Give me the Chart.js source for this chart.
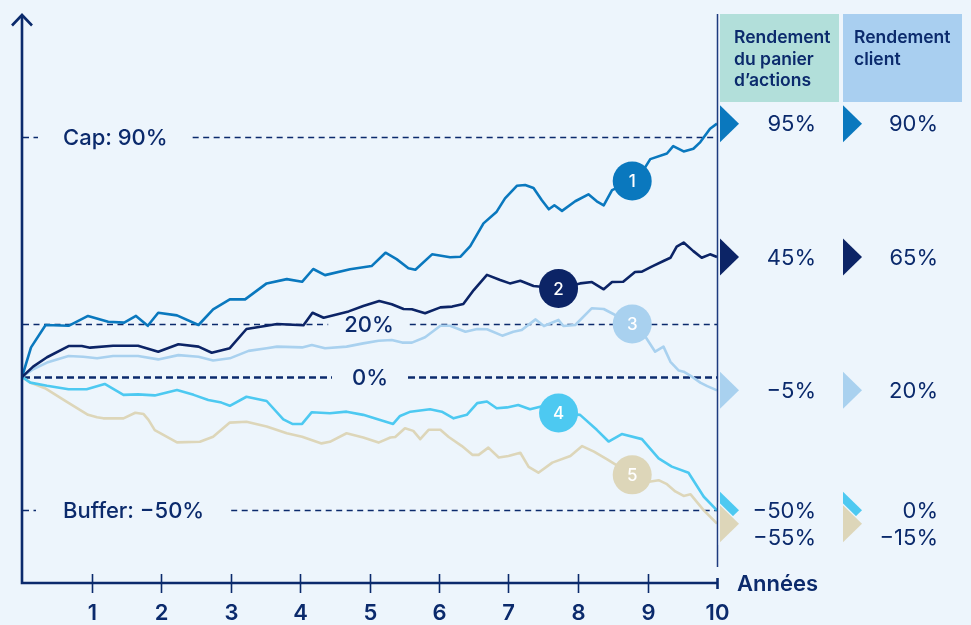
<!DOCTYPE html>
<html>
<head>
<meta charset="utf-8">
<script src="https://cdn.jsdelivr.net/npm/chart.js@4.4.1/dist/chart.umd.min.js"></script>
<style>
  html, body { margin: 0; padding: 0; background: #edf5fc; }
  #wrap { width: 971px; height: 625px; }
</style>
</head>
<body>
<div id="wrap"><canvas id="basketChart" width="971" height="625"></canvas></div>
<script>
// years on the x axis, returns in %
const xTicks = [1, 2, 3, 4, 5, 6, 7, 8, 9, 10];

const s1Years = [0, 0.13, 0.34, 0.67, 0.95, 1.24, 1.47, 1.64, 1.81, 1.96, 2.23, 2.54, 2.75, 2.99, 3.21, 3.52, 3.81, 4.03, 4.19, 4.36, 4.72, 5.03, 5.23, 5.39, 5.56, 5.66, 5.90, 6.16, 6.31, 6.45, 6.64, 6.83, 6.95, 7.12, 7.24, 7.36, 7.48, 7.58, 7.66, 7.77, 7.96, 8.15, 8.27, 8.37, 8.49, 8.78, 8.97, 9.04, 9.28, 9.37, 9.52, 9.66, 9.76, 9.90, 10];
const s1Values = [0, 11.1, 19.5, 19.2, 22.9, 20.7, 20.4, 22.9, 19.2, 24.1, 23.1, 19.5, 25.4, 29.1, 29.1, 35.1, 36.7, 35.7, 40.5, 38.2, 40.4, 41.6, 46.6, 44.2, 40.8, 40.2, 46.0, 44.9, 45.1, 49.1, 57.6, 62.0, 67.0, 71.7, 72.0, 70.9, 66.3, 62.9, 64.4, 62.3, 65.9, 68.5, 65.9, 64.4, 70.1, 73.5, 78.8, 81.7, 83.8, 86.6, 84.6, 85.6, 88.1, 93.1, 95];

const s2Years = [0, 0.16, 0.36, 0.67, 0.86, 0.98, 1.31, 1.67, 1.96, 2.25, 2.54, 2.73, 2.99, 3.23, 3.52, 3.67, 4.05, 4.18, 4.34, 4.70, 4.91, 5.14, 5.32, 5.49, 5.61, 5.80, 6.02, 6.19, 6.35, 6.50, 6.69, 6.88, 7.02, 7.17, 7.36, 7.72, 8.03, 8.20, 8.37, 8.49, 8.65, 8.82, 8.92, 9.06, 9.23, 9.33, 9.42, 9.52, 9.66, 9.78, 9.90, 10];
const s2Values = [0, 3.9, 7.4, 11.6, 11.6, 11.0, 11.7, 11.7, 9.5, 12.3, 11.4, 9.1, 10.8, 18.0, 19.2, 19.9, 19.4, 24.1, 22.2, 24.6, 26.6, 28.5, 27.3, 25.5, 25.4, 23.9, 26.1, 26.4, 27.4, 32.6, 38.3, 36.4, 35.1, 36.1, 34.1, 33.2, 35.1, 35.6, 32.9, 35.6, 35.7, 39.4, 39.5, 41.4, 43.5, 44.7, 48.9, 50.4, 47.2, 44.7, 46.0, 45];

const s3Years = [0, 0.16, 0.36, 0.67, 0.88, 1.08, 1.31, 1.67, 1.96, 2.25, 2.54, 2.75, 2.99, 3.26, 3.52, 3.67, 4.03, 4.17, 4.36, 4.67, 4.91, 5.13, 5.32, 5.47, 5.61, 5.80, 6.02, 6.16, 6.38, 6.55, 6.69, 6.91, 7.07, 7.19, 7.39, 7.51, 7.72, 7.79, 7.96, 8.20, 8.37, 8.78, 8.97, 9.11, 9.23, 9.33, 9.45, 9.52, 9.64, 9.76, 9.86, 10];
const s3Values = [0, 2.9, 5.4, 7.9, 7.6, 7.0, 7.9, 7.9, 6.6, 8.2, 7.6, 6.2, 7.0, 9.8, 10.8, 11.4, 11.1, 12.0, 10.8, 11.4, 12.6, 13.6, 13.9, 12.9, 12.9, 14.9, 19.2, 19.2, 17.0, 18.0, 17.9, 15.5, 17.0, 17.6, 21.6, 19.1, 21.4, 19.1, 19.5, 25.8, 25.5, 19.9, 15.1, 9.5, 11.4, 5.7, 2.4, 2.0, 0.1, -2.1, -3.4, -5];

const s4Years = [0, 0.12, 0.36, 0.67, 0.93, 1.19, 1.46, 1.67, 1.91, 2.23, 2.47, 2.68, 2.87, 2.99, 3.23, 3.52, 3.76, 3.89, 4.03, 4.17, 4.43, 4.67, 4.91, 5.13, 5.34, 5.44, 5.59, 5.87, 6.04, 6.21, 6.40, 6.55, 6.69, 6.83, 6.98, 7.14, 7.31, 7.50, 7.72, 8.03, 8.27, 8.44, 8.63, 8.92, 9.16, 9.35, 9.59, 9.81, 10];
const s4Values = [0, -2.1, -3.3, -4.6, -4.6, -2.6, -6.7, -6.5, -6.9, -4.9, -6.7, -8.6, -9.6, -10.8, -7.4, -9.0, -15.9, -17.6, -17.6, -13.2, -13.6, -13.0, -14.2, -15.9, -17.6, -14.6, -13.0, -12.1, -13.0, -15.5, -14.2, -9.8, -9.2, -11.7, -11.4, -10.5, -12.1, -10.9, -13.5, -14.2, -19.8, -24.2, -21.4, -23.3, -30.5, -33.6, -35.9, -44.9, -50];

const s5Years = [0, 0.12, 0.33, 0.64, 0.95, 1.08, 1.17, 1.46, 1.63, 1.75, 1.82, 1.91, 2.23, 2.56, 2.75, 2.99, 3.23, 3.52, 3.81, 4.03, 4.31, 4.43, 4.67, 4.91, 5.13, 5.30, 5.37, 5.51, 5.63, 5.73, 5.85, 6.02, 6.14, 6.33, 6.48, 6.57, 6.71, 6.86, 7.00, 7.17, 7.29, 7.43, 7.63, 7.89, 8.06, 8.23, 8.42, 8.78, 9.00, 9.16, 9.28, 9.40, 9.52, 9.62, 9.81, 10];
const s5Values = [0, -2.1, -4.2, -9.2, -14.2, -15.1, -15.5, -15.5, -13.4, -13.9, -16.1, -19.9, -24.5, -24.3, -22.4, -17.1, -16.8, -18.6, -21.1, -22.4, -24.9, -24.3, -21.1, -22.7, -24.6, -22.7, -22.5, -19.2, -20.2, -23.3, -19.8, -19.8, -22.5, -25.9, -29.2, -29.2, -26.5, -30.2, -29.6, -28.4, -33.7, -35.9, -32.1, -29.6, -25.9, -28.0, -30.9, -36.7, -39.4, -38.7, -40.2, -42.9, -44.6, -44.0, -50.0, -55];

// numbered badge sits on each line at this year
const badgeLabels = ['1', '2', '3', '4', '5'];
const badgeYears = [8.78, 7.72, 8.78, 7.72, 8.78];

// right-hand table
const basketReturns = [95, 45, -5, -50, -55];
const clientReturns = [90, 65, 20, 0, -15];
const tableHeaders = [['Rendement', 'du panier', 'd\u2019actions'], ['Rendement', 'client']];

// cap / buffer guides
const refValues = [90, 20, 0, -50];
const refLabels = ['Cap: 90%', '20%', '0%', 'Buffer: \u221250%'];
const xTitle = 'Années';

const colors = ['#0a78be', '#0c2466', '#a9d1ef', '#4dc9f1', '#ddd6b9'];
const navy = '#0b2a6c';
const FONT = 'Inter, "Open Sans", sans-serif';

function pct(v) {
    return (v < 0 ? '\u2212' + Math.abs(v) : v) + '%';
}

function toPoints(xs, ys) {
    return xs.map((x, i) => ({ x: x, y: ys[i] }));
}

const allYears = [s1Years, s2Years, s3Years, s4Years, s5Years];
const allValues = [s1Values, s2Values, s3Values, s4Values, s5Values];

const datasets = allYears.map((xs, i) => ({
    label: badgeLabels[i],
    data: toPoints(xs, allValues[i]),
    borderColor: colors[i],
    borderWidth: 2.6,
    pointRadius: 0,
    tension: 0,
    borderJoinStyle: 'round'
}));
// light lines go under the dark ones
const drawOrder = [3, 1, 4, 2, 5];
datasets.forEach((d, i) => d.order = drawOrder[i]);

const refStyle = [
    { x: 63, align: 'left', gap: 25, width: 1.4, dash: [6, 4.5] },
    { x: 369, align: 'center', gap: 16, width: 1.4, dash: [6, 4.5] },
    { x: 370, align: 'center', gap: 20, width: 2.6, dash: [7, 4] },
    { x: 63, align: 'left', gap: 27, width: 1.4, dash: [6, 4.5] }
];

function triangle(ctx, left, cy, w, h, fill, outline) {
    ctx.beginPath();
    ctx.moveTo(left, cy - h / 2);
    ctx.lineTo(left + w, cy);
    ctx.lineTo(left, cy + h / 2);
    ctx.closePath();
    if (outline) {
        ctx.strokeStyle = outline;
        ctx.lineWidth = 2.5;
        ctx.stroke();
    }
    ctx.fillStyle = fill;
    ctx.fill();
}

const decor = {
    id: 'decor',
    beforeDatasetsDraw(chart) {
        const { ctx, chartArea, scales: { y } } = chart;
        ctx.save();
        ctx.font = '500 22px ' + FONT;
        ctx.textBaseline = 'middle';
        refValues.forEach((v, i) => {
            const st = refStyle[i];
            const py = Math.round(y.getPixelForValue(v)) + 0.5;
            const tw = ctx.measureText(refLabels[i]).width;
            const tx0 = st.align === 'left' ? st.x : st.x - tw / 2;
            const tx1 = tx0 + tw;
            ctx.strokeStyle = navy;
            ctx.lineWidth = st.width;
            ctx.setLineDash(st.dash);
            ctx.beginPath();
            ctx.moveTo(chartArea.left + 1, py);
            ctx.lineTo(tx0 - st.gap, py);
            ctx.moveTo(tx1 + st.gap, py);
            ctx.lineTo(chartArea.right, py);
            ctx.stroke();
            ctx.setLineDash([]);
            ctx.fillStyle = navy;
            ctx.textAlign = 'left';
            ctx.fillText(refLabels[i], tx0, py + 1);
        });
        ctx.restore();
    },
    afterDatasetsDraw(chart) {
        const { ctx, chartArea, scales: { x, y } } = chart;
        const L = chartArea.left, R = chartArea.right, B = chartArea.bottom, T = chartArea.top;
        ctx.save();

        // badges
        chart.data.datasets.forEach((ds, i) => {
            const idx = allYears[i].indexOf(badgeYears[i]);
            const pt = chart.getDatasetMeta(i).data[idx];
            ctx.beginPath();
            ctx.arc(pt.x, pt.y, 19.5, 0, Math.PI * 2);
            ctx.fillStyle = colors[i];
            ctx.fill();
            ctx.fillStyle = '#ffffff';
            ctx.font = '500 17px ' + FONT;
            ctx.textAlign = 'center';
            ctx.textBaseline = 'middle';
            ctx.fillText(badgeLabels[i], pt.x, pt.y + 1);
        });

        // end-of-period line
        ctx.strokeStyle = '#1d3a7e';
        ctx.lineWidth = 1.5;
        ctx.beginPath();
        ctx.moveTo(R + 0.5, T - 1);
        ctx.lineTo(R + 0.5, B - 16);
        ctx.stroke();

        // axes
        ctx.strokeStyle = navy;
        ctx.lineWidth = 2.6;
        ctx.lineCap = 'butt';
        ctx.beginPath();
        ctx.moveTo(L, B);
        ctx.lineTo(L, T);
        ctx.moveTo(L - 1.3, B);
        ctx.lineTo(R + 1, B);
        ctx.stroke();
        ctx.lineJoin = 'miter';
        ctx.beginPath();
        ctx.moveTo(L - 10, T + 10.5);
        ctx.lineTo(L, T);
        ctx.lineTo(L + 10, T + 10.5);
        ctx.stroke();

        ctx.font = '600 22px ' + FONT;
        ctx.fillStyle = navy;
        ctx.textAlign = 'center';
        ctx.textBaseline = 'middle';
        xTicks.forEach(t => {
            const px = Math.round(x.getPixelForValue(t)) + 0.5;
            ctx.lineWidth = t === 10 ? 2.6 : 1.6;
            ctx.beginPath();
            if (t === 10) {
                ctx.moveTo(px, B - 5);
                ctx.lineTo(px, B + 6);
            } else {
                ctx.moveTo(px, B - 9);
                ctx.lineTo(px, B + 10);
            }
            ctx.stroke();
            ctx.fillText(String(t), px, B + 30);
        });
        ctx.textAlign = 'left';
        ctx.fillText(xTitle, 737, B + 1.5);

        // table header boxes
        const cols = [{ box: 720, w: 119, text: 734, fill: '#b2dfda', tri: 720, val: 816 },
                      { box: 843, w: 119, text: 854, fill: '#a9cff0', tri: 843, val: 938 }];
        cols.forEach((c, ci) => {
            ctx.fillStyle = c.fill;
            ctx.fillRect(c.box, 14, c.w, 88);
            ctx.fillStyle = navy;
            ctx.font = '600 17.5px ' + FONT;
            ctx.textAlign = 'left';
            tableHeaders[ci].forEach((line, li) => ctx.fillText(line, c.text, 38 + li * 21.5));
        });

        // row markers and values
        let prev = -Infinity;
        basketReturns.forEach((v, i) => {
            const cy = y.getPixelForValue(v);
            const outline = i > 0 && cy - y.getPixelForValue(basketReturns[i - 1]) < 30 ? '#edf5fc' : null;
            cols.forEach(c => triangle(ctx, c.tri, cy, 19, 37, colors[i], outline));
            const ty = Math.max(cy, prev + 27);
            prev = ty;
            ctx.fillStyle = navy;
            ctx.font = '400 22px ' + FONT;
            ctx.textAlign = 'right';
            ctx.fillText(pct(v), cols[0].val, ty + 1);
            ctx.fillText(pct(clientReturns[i]), cols[1].val, ty + 1);
        });

        ctx.restore();
    }
};

new Chart(document.getElementById('basketChart'), {
    type: 'line',
    data: { datasets: datasets },
    options: {
        responsive: false,
        animation: false,
        layout: { padding: { left: 22, right: 254, top: 15, bottom: 42 } },
        plugins: { legend: { display: false }, tooltip: { enabled: false } },
        scales: {
            x: { type: 'linear', min: 0, max: 10, display: false },
            y: { type: 'linear', min: -77.25, max: 135.75, display: false }
        }
    },
    plugins: [decor]
});
</script>
</body>
</html>
